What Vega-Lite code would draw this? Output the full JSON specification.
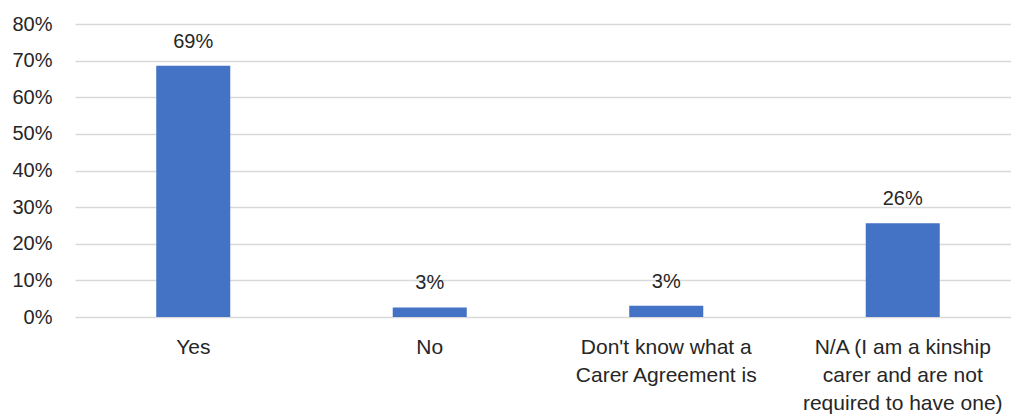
{
  "$schema": "https://vega.github.io/schema/vega-lite/v6.json",
  "autosize": {"type": "none"},
  "padding": {"left": 75, "top": 24, "right": 0, "bottom": 102},
  "width": 946,
  "height": 293,
  "background": "white",
  "config": {
    "view": {"stroke": null},
    "font": "Liberation Sans"
  },
  "data": {
    "values": [
      {"answer": "Yes", "value": 0.686},
      {"answer": "No", "value": 0.026},
      {"answer": "Don't know what a|Carer Agreement is", "value": 0.031},
      {"answer": "N/A (I am a kinship|carer and are not|required to have one)", "value": 0.256}
    ]
  },
  "encoding": {
    "x": {
      "field": "answer",
      "type": "nominal",
      "sort": null,
      "scale": {"paddingInner": 0.687, "paddingOuter": 0.3435},
      "axis": {
        "title": null,
        "labelAngle": 0,
        "labelExpr": "split(datum.label, '|')",
        "labelFontSize": 21,
        "labelColor": "#262626",
        "labelLineHeight": 28,
        "labelPadding": 19,
        "labelBaseline": "top",
        "ticks": false,
        "domain": false,
        "labelLimit": 300
      }
    },
    "y": {
      "field": "value",
      "type": "quantitative",
      "scale": {"domain": [0, 0.8], "nice": false},
      "axis": {
        "title": null,
        "format": ".0%",
        "values": [0, 0.1, 0.2, 0.3, 0.4, 0.5, 0.6, 0.7, 0.8],
        "labelFontSize": 20,
        "labelColor": "#262626",
        "labelPadding": 23,
        "ticks": false,
        "domain": false,
        "gridColor": "#d9d9d9",
        "gridWidth": 1.5
      }
    }
  },
  "layer": [
    {"mark": {"type": "bar", "color": "#4472C4"}},
    {
      "mark": {"type": "text", "baseline": "alphabetic", "dy": -18, "fontSize": 20, "color": "#262626"},
      "encoding": {"text": {"field": "value", "format": ".0%"}}
    }
  ]
}
